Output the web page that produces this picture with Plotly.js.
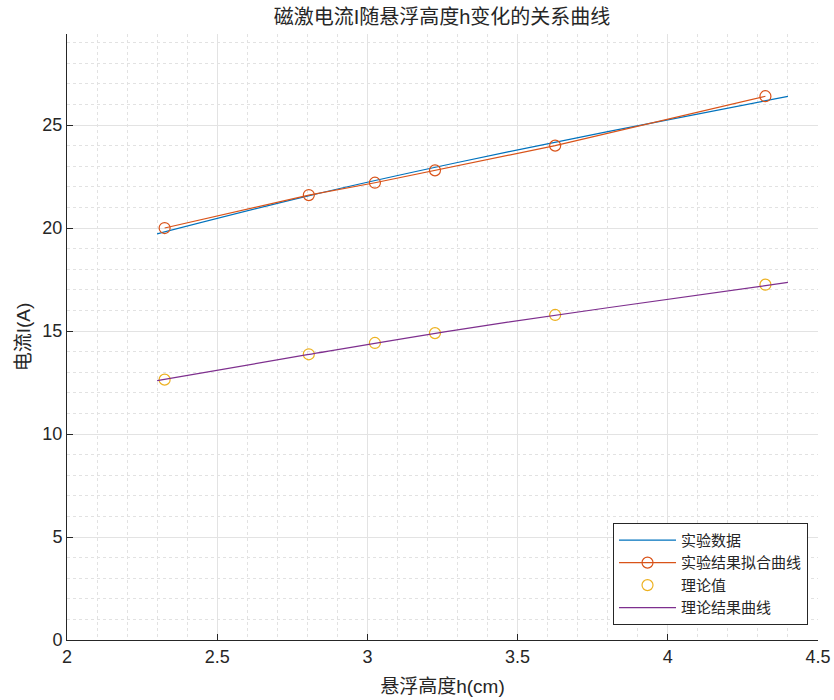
<!DOCTYPE html>
<html>
<head>
<meta charset="utf-8">
<script src="https://cdn.plot.ly/plotly-3.0.1.min.js"></script>
<style>
html,body{margin:0;padding:0;background:#fff;}
#chart{width:834px;height:700px;}
</style>
</head>
<body>
<div id="chart"></div>
<script>
// Heights h (cm)
const h = [2.325, 2.805, 3.025, 3.225, 3.625, 4.325];
// Experimental current I (A)
const iExp = [20.0, 21.6, 22.2, 22.8, 24.0, 26.4];
// Theoretical current I (A)
const iTheory = [12.64, 13.87, 14.42, 14.90, 15.78, 17.25];
// Smooth curves: points
const curveX = [2.3, 2.8, 3.3, 3.8, 4.4];
const curveExp = [19.72, 21.55, 23.18, 24.68, 26.39];
const curveTheory = [12.59, 13.85, 15.06, 16.13, 17.36];

const names = ['实验数据', '实验结果拟合曲线', '理论值', '理论结果曲线'];
const FONT = "'Liberation Sans', 'Noto Sans CJK SC', sans-serif";
const TXT = '#262626';

const traces = [
  {x: curveX, y: curveExp, mode: 'lines', name: names[0],
   line: {color: '#0072BD', width: 1.2, shape: 'spline'}},
  {x: h, y: iExp, mode: 'lines+markers', name: names[1],
   line: {color: '#D95319', width: 1.2},
   marker: {symbol: 'circle-open', size: 11, color: '#D95319', line: {width: 1.2}}},
  {x: h, y: iTheory, mode: 'markers', name: names[2],
   marker: {symbol: 'circle-open', size: 11, color: '#EDB120', line: {width: 1.2}}},
  {x: curveX, y: curveTheory, mode: 'lines', name: names[3],
   line: {color: '#7E2F8E', width: 1.2, shape: 'spline'}}
];

const axisCommon = {
  showline: true, linecolor: '#262626', linewidth: 1,
  ticks: 'inside', ticklen: 6, tickcolor: '#262626',
  showgrid: true, gridcolor: '#e3e3e3', gridwidth: 1,
  zeroline: false, mirror: false,
  tickfont: {family: FONT, size: 18, color: TXT}
};

const layout = {
  width: 834, height: 700,
  paper_bgcolor: '#fff', plot_bgcolor: '#fff',
  margin: {l: 67, r: 16, t: 34, b: 60},
  font: {family: FONT, color: TXT},
  title: {text: '磁激电流I随悬浮高度h变化的关系曲线',
          font: {family: FONT, size: 20, color: TXT},
          x: 0.53, xanchor: 'center', y: 1 - 17/700, yanchor: 'middle'},
  xaxis: Object.assign({}, axisCommon, {
    range: [2, 4.5], dtick: 0.5, tick0: 2,
    minor: {dtick: 0.1, showgrid: true, gridcolor: '#e2e2e2', griddash: 'dot', gridwidth: 1, ticks: ''},
    title: {text: '悬浮高度h(cm)', font: {family: FONT, size: 19, color: TXT}, standoff: 14}
  }),
  yaxis: Object.assign({}, axisCommon, {
    range: [0, 29.42], dtick: 5, tick0: 0,
    minor: {dtick: 1, showgrid: true, gridcolor: '#e2e2e2', griddash: 'dot', gridwidth: 1, ticks: ''},
    title: {text: '电流I(A)', font: {family: FONT, size: 19, color: TXT}, standoff: 6}
  }),
  showlegend: true,
  legend: {
    x: 0.9867, xanchor: 'right', y: 0.025, yanchor: 'bottom',
    bgcolor: '#fff', bordercolor: '#262626', borderwidth: 1,
    font: {family: FONT, size: 15, color: TXT},
    itemwidth: 57, tracegroupgap: 0
  }
};

Plotly.newPlot('chart', traces, layout, {displayModeBar: false, staticPlot: true});
</script>
</body>
</html>
